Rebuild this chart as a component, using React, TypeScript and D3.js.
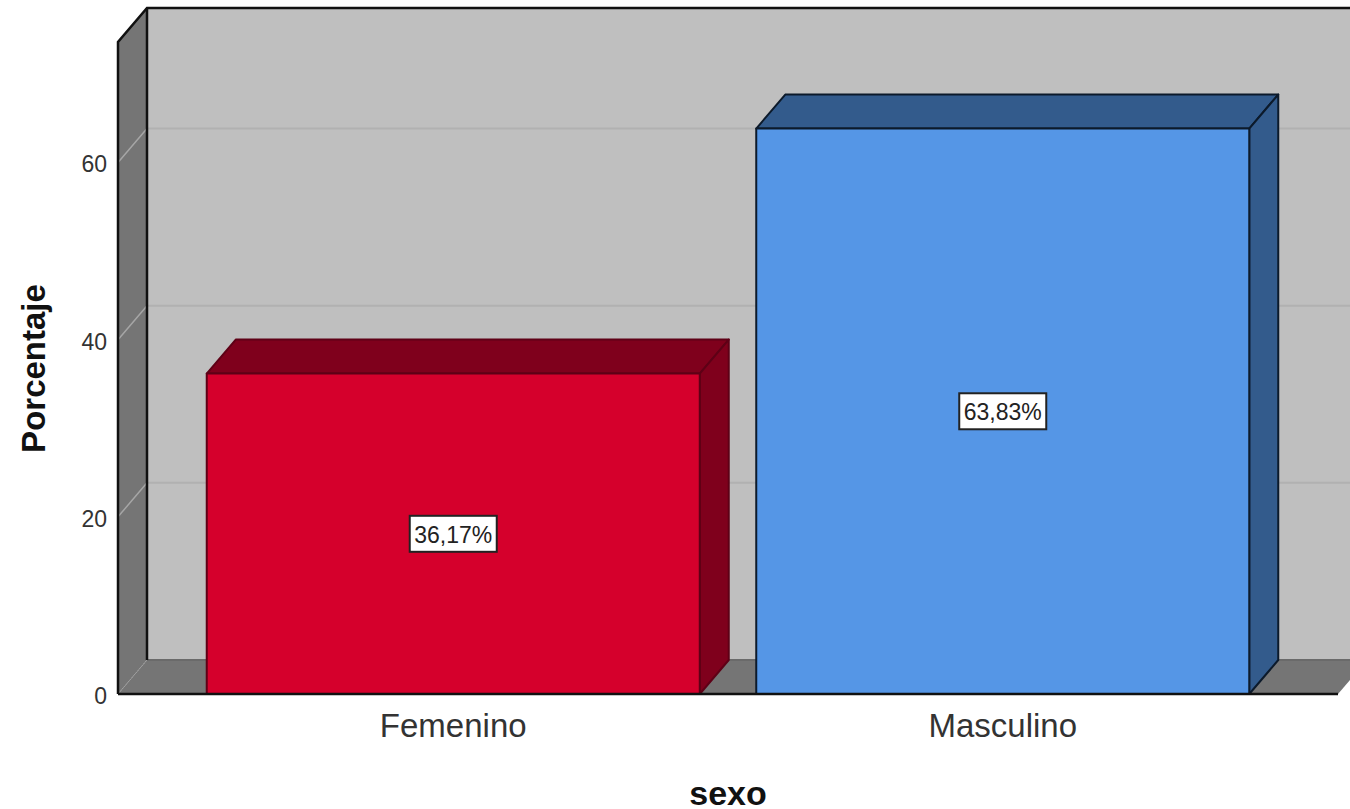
import { useEffect, useRef } from 'react';
import * as d3 from 'd3';

const categories = ['Femenino', 'Masculino'];
const percentages = [36.17, 63.83];
const valueLabels = ['36,17%', '63,83%'];
const yTicks = [0, 20, 40, 60];
const barFronts = ['#d5002c', '#5596e6'];
const barSides = ['#7f001c', '#335b8c'];
const barEdges = ['#5e0016', '#0c1a2b'];

const width = 1350;
const height = 809;
const depthX = 29;
const depthY = -34;
const fontFamily = '"Liberation Sans", Arial, sans-serif';

export default function App() {
  const svgRef = useRef<SVGSVGElement>(null);

  useEffect(() => {
    if (!svgRef.current) return;
    const svg = d3.select(svgRef.current);
    svg.selectAll('*').remove();

    const x = d3.scaleBand<string>()
      .domain(categories)
      .range([118, 1338])
      .paddingInner(0.1028)
      .paddingOuter(0.1615);
    const y = d3.scaleLinear().domain([0, 73.6]).range([694, 42]);

    const x0 = 118;
    const x1 = 1338;
    const yBase = y(0);
    const yTop = y(73.6);
    const line = d3.line();
    const poly = (pts: [number, number][]) => line(pts) + 'Z';

    // Back wall
    svg.append('path')
      .attr('d', poly([[x0 + depthX, yTop + depthY], [x1 + depthX, yTop + depthY], [x1 + depthX, yBase + depthY], [x0 + depthX, yBase + depthY]]))
      .attr('fill', '#bfbfbf');

    // Left wall and floor
    svg.append('path')
      .attr('d', poly([[x0, yTop], [x0 + depthX, yTop + depthY], [x0 + depthX, yBase + depthY], [x0, yBase]]))
      .attr('fill', '#757575');
    svg.append('path')
      .attr('d', poly([[x0, yBase], [x0 + depthX, yBase + depthY], [x1 + depthX, yBase + depthY], [x1, yBase]]))
      .attr('fill', '#757575');

    // Gridlines run across the left wall and the back wall
    yTicks.filter(t => t > 0).forEach(t => {
      svg.append('path')
        .attr('d', line([[x0, y(t)], [x0 + depthX, y(t) + depthY]]))
        .attr('fill', 'none')
        .attr('stroke', '#a6a6a6')
        .attr('stroke-width', 1.5);
      svg.append('path')
        .attr('d', line([[x0 + depthX, y(t) + depthY], [x1 + depthX, y(t) + depthY]]))
        .attr('fill', 'none')
        .attr('stroke', '#b1b1b1')
        .attr('stroke-width', 2);
    });
    svg.append('path')
      .attr('d', line([[x0, yBase], [x0 + depthX, yBase + depthY]]))
      .attr('fill', 'none')
      .attr('stroke', '#a0a0a0')
      .attr('stroke-width', 1)
      .attr('stroke-dasharray', '2,1');
    svg.append('line')
      .attr('x1', x0 + depthX).attr('x2', x1 + depthX)
      .attr('y1', yBase + depthY).attr('y2', yBase + depthY)
      .attr('stroke', '#6a6a6a')
      .attr('stroke-width', 2);

    // Frame lines
    svg.append('path')
      .attr('d', line([[x0, yBase], [x0, yTop], [x0 + depthX, yTop + depthY], [width + 10, yTop + depthY]]))
      .attr('fill', 'none')
      .attr('stroke', '#111')
      .attr('stroke-width', 2.5);
    svg.append('line')
      .attr('x1', x0 + depthX).attr('x2', x0 + depthX)
      .attr('y1', yTop + depthY).attr('y2', yBase + depthY)
      .attr('stroke', '#111')
      .attr('stroke-width', 2.5);

    // Bars
    categories.forEach((c, i) => {
      const left = x(c)!;
      const right = left + x.bandwidth();
      const top = y(percentages[i]);
      const g = svg.append('g')
        .attr('stroke', barEdges[i])
        .attr('stroke-width', 2)
        .attr('stroke-linejoin', 'round');
      g.append('path')
        .attr('d', poly([[left, top], [left + depthX, top + depthY], [right + depthX, top + depthY], [right, top]]))
        .attr('fill', barSides[i]);
      g.append('path')
        .attr('d', poly([[right, top], [right + depthX, top + depthY], [right + depthX, yBase + depthY], [right, yBase]]))
        .attr('fill', barSides[i]);
      g.append('rect')
        .attr('x', left)
        .attr('y', top)
        .attr('width', right - left)
        .attr('height', yBase - top)
        .attr('fill', barFronts[i]);

      // Value box at the middle of the bar
      const cx = (left + right) / 2;
      const cy = y(percentages[i] / 2);
      svg.append('rect')
        .attr('x', cx - 43.5)
        .attr('y', cy - 18)
        .attr('width', 87)
        .attr('height', 36)
        .attr('fill', '#fff')
        .attr('stroke', '#222')
        .attr('stroke-width', 2);
      svg.append('text')
        .attr('x', cx)
        .attr('y', cy + 9)
        .attr('text-anchor', 'middle')
        .attr('font-family', fontFamily)
        .attr('font-size', 23)
        .attr('fill', '#222')
        .text(valueLabels[i]);

      svg.append('text')
        .attr('x', cx)
        .attr('y', 737)
        .attr('text-anchor', 'middle')
        .attr('font-family', fontFamily)
        .attr('font-size', 33)
        .attr('fill', '#333')
        .text(c);
    });

    // Floor front edge sits over the bar bottoms
    svg.append('line')
      .attr('x1', x0).attr('x2', x1)
      .attr('y1', yBase).attr('y2', yBase)
      .attr('stroke', '#111')
      .attr('stroke-width', 2.5);

    // Y tick labels
    yTicks.forEach(t => {
      svg.append('text')
        .attr('x', 107)
        .attr('y', y(t) + 10)
        .attr('text-anchor', 'end')
        .attr('font-family', fontFamily)
        .attr('font-size', 23)
        .attr('fill', '#333')
        .text(String(t));
    });

    // Axis titles
    svg.append('text')
      .attr('transform', 'translate(45,368.5) rotate(-90)')
      .attr('text-anchor', 'middle')
      .attr('font-family', fontFamily)
      .attr('font-size', 33)
      .attr('font-weight', 'bold')
      .attr('fill', '#111')
      .text('Porcentaje');
    svg.append('text')
      .attr('x', 728)
      .attr('y', 805)
      .attr('text-anchor', 'middle')
      .attr('font-family', fontFamily)
      .attr('font-size', 34)
      .attr('font-weight', 'bold')
      .attr('fill', '#111')
      .text('sexo');
  }, []);

  return (
    <svg
      ref={svgRef}
      width={width}
      height={height}
      style={{ position: 'absolute', left: 0, top: 0, background: '#fff' }}
    />
  );
}
